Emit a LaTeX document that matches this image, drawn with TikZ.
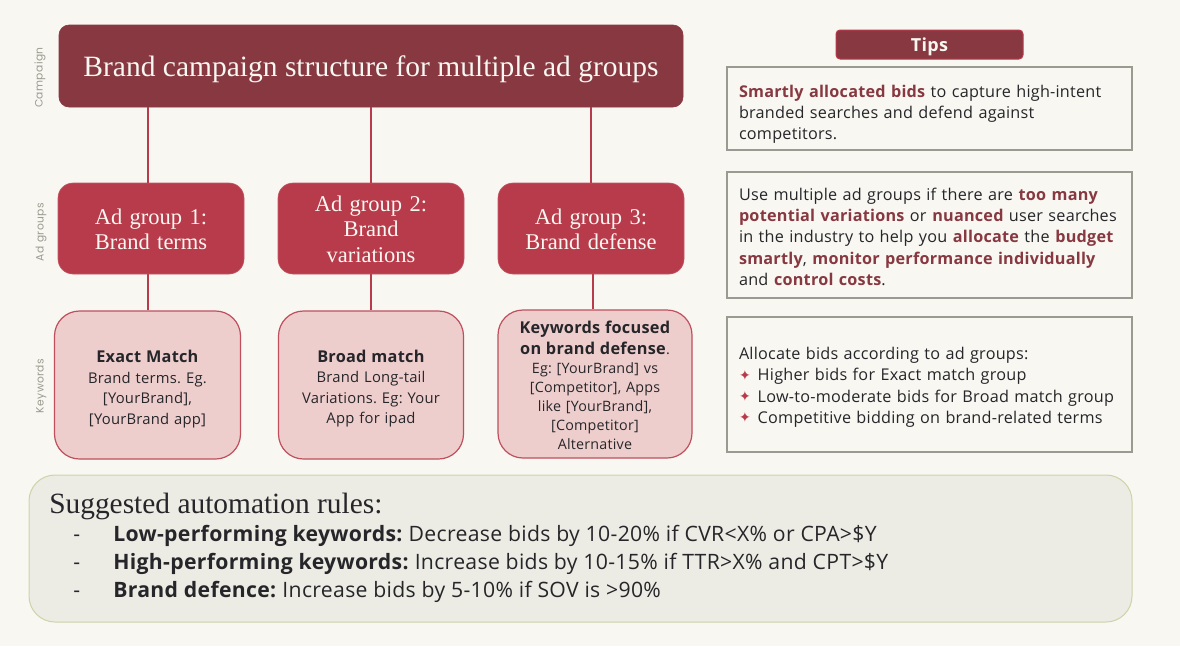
\documentclass[tikz,border=0pt]{standalone}
\usepackage{fontspec}
\usepackage{xcolor}
\usetikzlibrary{positioning,calc}
\setmainfont{Liberation Serif}
\newfontfamily\karla[LetterSpace=1.5]{Open Sans}
\newfontfamily\sidefont[LetterSpace=4]{Poppins}
\newfontfamily\starfont{DejaVu Sans}
\definecolor{paper}{HTML}{F8F7F2}
\definecolor{wine}{HTML}{873840}
\definecolor{berry}{HTML}{B83B4B}
\definecolor{blush}{HTML}{EECECD}
\definecolor{greybox}{HTML}{9A9A90}
\definecolor{sage}{HTML}{ECEBE4}
\definecolor{sageline}{HTML}{CFD3A8}
\definecolor{ink}{HTML}{26262A}
\newcommand{\hl}[1]{\textbf{\textcolor{wine}{#1}}}
\newcommand{\keyhead}[1]{{\fontsize{16.3}{19}\selectfont\textbf{#1}}}
\newcommand{\drop}[1]{\rule{0pt}{#1pt}}
\newcommand{\tipstar}{{\starfont\fontsize{14}{21}\selectfont\textcolor{berry}{\raisebox{0.5pt}{✦}}}\hspace{7pt}}
\frenchspacing
\begin{document}
\begin{tikzpicture}[x=1pt, y=-1pt, semithick]
\tikzstyle{every node}=[inner sep=0pt, align=center]
\tikzstyle{campaignbox}=[fill=wine, draw=wine, rounded corners=10pt, text=paper, minimum width=624pt, minimum height=82pt, text height=24pt, text depth=4pt, font=\fontsize{29.5}{32}\selectfont]
\tikzstyle{groupbox}=[fill=berry, draw=berry!85!white, rounded corners=15pt, text=paper, minimum width=186pt, minimum height=91pt, text width=170pt, font=\fontsize{22.5}{25.5}\selectfont]
\tikzstyle{keybox}=[fill=blush, draw=berry!90!white, line width=1.2pt, rounded corners=25pt, text=ink, minimum height=148pt, text width=176pt, font=\karla\frenchspacing\fontsize{14.8}{20.5}\selectfont]
\tikzstyle{tipbox}=[draw=greybox, line width=1.2pt, text=ink, minimum width=405pt, text width=381pt, align=left, font=\karla\fontsize{16.2}{21.2}\selectfont]
\tikzstyle{sidelabel}=[rotate=90, text=greybox, font=\sidefont\fontsize{10.7}{12}\selectfont]
\tikzstyle{tieline}=[draw=berry, line width=1.4pt]
\useasboundingbox[fill=paper] (0,0) rectangle (1180,646);

\node[campaignbox] (campaign) at (371,66) {Brand campaign structure for multiple ad groups};
\node[groupbox] (group1) at (151,228.5) {\drop{17}Ad group 1:\\Brand terms};
\node[groupbox] (group2) at (371,228.5) {\drop{17}Ad group 2:\\Brand\\variations};
\node[groupbox] (group3) at (591,228.5) {\drop{17}Ad group 3:\\Brand defense};
\node[keybox, minimum width=186pt] (keys1) at (147.5,385) {\drop{21}\keyhead{Exact Match}\\Brand terms. Eg.\\{}[YourBrand],\\{}[YourBrand app]};
\node[keybox, minimum width=185pt] (keys2) at (371,385) {\drop{20}\keyhead{Broad match}\\Brand Long-tail\\Variations. Eg: Your\\App for ipad};
\node[keybox, minimum width=194pt, text width=186pt, font=\karla\frenchspacing\fontsize{14.3}{19}\selectfont] (keys3) at (595,384) {\drop{16}\keyhead{Keywords focused}\\[2pt]\keyhead{on brand defense}.\\Eg: [YourBrand] vs\\{}[Competitor], Apps\\like [YourBrand],\\{}[Competitor]\\Alternative};

\node[sidelabel] (sidecampaign) at (40,77.5) {Campaign};
\node[sidelabel] (sidegroups) at (41,232) {Ad groups};
\node[sidelabel] (sidekeys) at (41,386) {Keywords};

\draw[tieline] ([xshift=.5pt]keys1.north) -- ([xshift=.5pt]keys1.north |- group1.south);
\draw[tieline] ([xshift=.5pt]group1.north -| keys1.north) -- ([xshift=.5pt]keys1.north |- campaign.south);
\draw[tieline] (keys2.north) -- (group2.south);
\draw[tieline] (group2.north) -- (campaign.south);
\draw[tieline] ([xshift=-2pt]keys3.north) -- ([xshift=-2pt]keys3.north |- group3.south);
\draw[tieline] (group3.north) -- (group3.north |- campaign.south);

\node[fill=wine, draw=berry, line width=1pt, rounded corners=4pt, text=paper, minimum width=187pt, minimum height=29pt, text height=16pt, text depth=3pt, font=\karla\bfseries\fontsize{18}{20}\selectfont] (tips) at (929.5,44.5) {Tips};
\node[tipbox, minimum height=83pt] (tip1) at (929.5,108.5) {\drop{24}\hl{Smartly allocated bids} to capture high-intent\\branded searches and defend against\\competitors.};
\node[tipbox, minimum height=126pt] (tip2) at (929.5,235) {\drop{16}Use multiple ad groups if there are \hl{too many}\\\hl{potential variations} or \hl{nuanced} user searches\\in the industry to help you \hl{allocate} the \hl{budget}\\\hl{smartly}, \hl{monitor performance individually}\\and \hl{control costs}.};
\node[tipbox, minimum height=135pt] (tip3) at (929.5,384.5) {\drop{18}Allocate bids according to ad groups:\\\tipstar Higher bids for Exact match group\\\tipstar Low-to-moderate bids for Broad match group\\\tipstar Competitive bidding on brand-related terms};

\node[fill=sage, draw=sageline, line width=1pt, rounded corners=26pt, minimum width=1103pt, minimum height=147pt] (rulesbox) at (580.5,548.5) {};
\node[anchor=west, align=left, text=ink, font=\karla\fontsize{21.2}{28}\selectfont] (rules) at (49,548) {{\rmfamily\fontsize{29.4}{29}\selectfont Suggested automation rules:}\\
\makebox[64pt][l]{\hspace{24pt}-}\textbf{Low-performing keywords:} Decrease bids by 10-20\% if CVR<X\% or CPA>\$Y\\
\makebox[64pt][l]{\hspace{24pt}-}\textbf{High-performing keywords:} Increase bids by 10-15\% if TTR>X\% and CPT>\$Y\\
\makebox[64pt][l]{\hspace{24pt}-}\textbf{Brand defence:} Increase bids by 5-10\% if SOV is >90\%};
\end{tikzpicture}
\end{document}
